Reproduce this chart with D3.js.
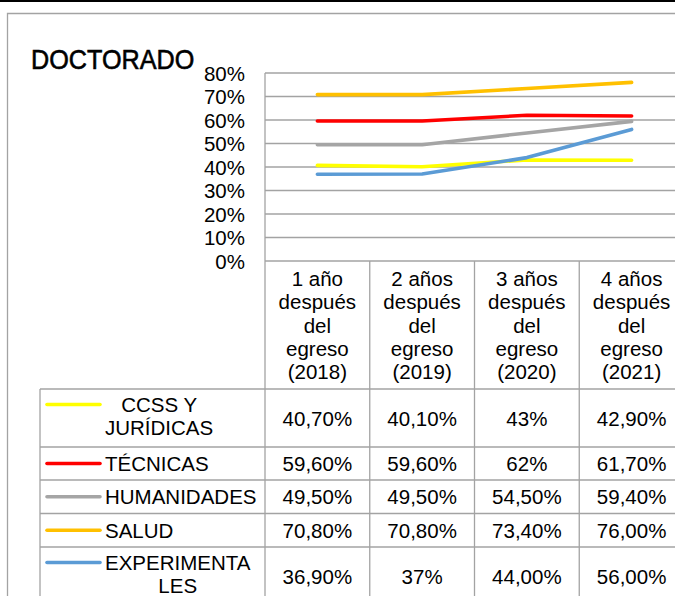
<!DOCTYPE html>
<html lang="es">
<head>
<meta charset="UTF-8">
<title>Doctorado</title>
<script src="https://cdnjs.cloudflare.com/ajax/libs/d3/7.8.5/d3.min.js"></script>
<style>
    body { margin: 0; background: #fff; }
    svg { display: block; font-family: "Liberation Sans", Arial, sans-serif; }
    .grid line { stroke: #a3a3a3; stroke-width: 1.3px; }
    .cell { font-size: 20.5px; fill: #000; }
</style>
</head>
<body>
<svg id="chart"></svg>
<script>
    const width = 675;
    const height = 596;

    // data
    const periods = [
        ["1 año", "después", "del", "egreso", "(2018)"],
        ["2 años", "después", "del", "egreso", "(2019)"],
        ["3 años", "después", "del", "egreso", "(2020)"],
        ["4 años", "después", "del", "egreso", "(2021)"]
    ];
    const seriesNames = [["CCSS Y", "JURÍDICAS"], ["TÉCNICAS"], ["HUMANIDADES"], ["SALUD"], ["EXPERIMENTA", "LES"]];
    const seriesColors = ["#ffff00", "#ff0000", "#a5a5a5", "#ffc000", "#5b9bd5"];
    const ccss = [0.407, 0.401, 0.43, 0.429];
    const tecnicas = [0.596, 0.596, 0.62, 0.617];
    const humanidades = [0.495, 0.495, 0.545, 0.594];
    const salud = [0.708, 0.708, 0.734, 0.76];
    const experimentales = [0.369, 0.37, 0.44, 0.56];
    const tableLabels = [
        ["40,70%", "40,10%", "43%", "42,90%"],
        ["59,60%", "59,60%", "62%", "61,70%"],
        ["49,50%", "49,50%", "54,50%", "59,40%"],
        ["70,80%", "70,80%", "73,40%", "76,00%"],
        ["36,90%", "37%", "44,00%", "56,00%"]
    ];
    const yTicks = [0, 0.1, 0.2, 0.3, 0.4, 0.5, 0.6, 0.7, 0.8];

    const allSeries = [ccss, tecnicas, humanidades, salud, experimentales];
    // table row boundaries
    const rowEdges = [389, 447, 480, 513.5, 547, 605];

    const svg = d3.select("#chart").attr("width", width).attr("height", height);

    const x = d3.scaleBand().domain(d3.range(periods.length)).range([265, 684]);
    const y = d3.scaleLinear().domain([0, 0.8]).range([261, 73]);

    // top black rule and outer frame
    svg.append("line").attr("x1", 0).attr("x2", width).attr("y1", 1).attr("y2", 1)
        .attr("stroke", "#000").attr("stroke-width", 2);
    svg.append("path").attr("d", `M7.5,${height} V13.5 H${width}`)
        .attr("fill", "none").attr("stroke", "#a3a3a3").attr("stroke-width", 1.3);

    svg.append("text")
        .attr("transform", "translate(31,69) scale(0.9,1)")
        .attr("font-size", 28).attr("stroke", "#000").attr("stroke-width", 0.6)
        .text("DOCTORADO");

    // gridlines
    svg.append("g").attr("class", "grid")
        .selectAll("line").data(yTicks).join("line")
        .attr("x1", 265).attr("x2", width)
        .attr("y1", d => y(d)).attr("y2", d => y(d));

    svg.append("g")
        .selectAll("text").data(yTicks).join("text")
        .attr("class", "cell")
        .attr("x", 245).attr("y", d => y(d) + 7.5)
        .attr("text-anchor", "end")
        .text(d => Math.round(d * 100) + "%");

    // table lines
    const tbl = svg.append("g").attr("class", "grid");
    tbl.append("line").attr("x1", 265).attr("x2", 265).attr("y1", y(0.8)).attr("y2", height);
    tbl.selectAll(".vsep").data(d3.range(1, periods.length)).join("line")
        .attr("x1", d => x(d)).attr("x2", d => x(d))
        .attr("y1", y(0)).attr("y2", height);
    tbl.append("line").attr("x1", 40).attr("x2", 40).attr("y1", rowEdges[0]).attr("y2", height);
    tbl.selectAll(".hsep").data(rowEdges.slice(0, -1)).join("line")
        .attr("x1", 40).attr("x2", width)
        .attr("y1", d => d).attr("y2", d => d);

    // column headers
    periods.forEach((lines, i) => {
        svg.append("text").attr("class", "cell")
            .attr("text-anchor", "middle")
            .selectAll("tspan").data(lines).join("tspan")
            .attr("x", x(i) + x.bandwidth() / 2)
            .attr("y", (d, j) => 286 + j * 23.3)
            .text(d => d);
    });

    // lines
    const line = d3.line()
        .x((d, i) => x(i) + x.bandwidth() / 2)
        .y(d => y(d));

    svg.append("g").selectAll("path").data(allSeries).join("path")
        .attr("d", line)
        .attr("fill", "none")
        .attr("stroke", (d, i) => seriesColors[i])
        .attr("stroke-width", 3.6)
        .attr("stroke-linecap", "round")
        .attr("stroke-linejoin", "round");

    // legend rows + values
    seriesNames.forEach((names, i) => {
        const top = rowEdges[i], bot = rowEdges[i + 1];
        const mid = (top + bot) / 2;
        const firstY = names.length > 1 ? top + 23 : mid + 7.5;
        const markY = firstY - 7.5;
        svg.append("line")
            .attr("x1", 47).attr("x2", 100).attr("y1", markY).attr("y2", markY)
            .attr("stroke", seriesColors[i]).attr("stroke-width", 3.6)
            .attr("stroke-linecap", "round");

        const lbl = svg.append("text").attr("class", "cell");
        const spans = lbl.selectAll("tspan").data(names).join("tspan")
            .attr("x", 105)
            .attr("y", (d, j) => firstY + j * 23)
            .text(d => d);
        if (names.length > 1) {
            const widths = spans.nodes().map(n => n.getComputedTextLength());
            const w = d3.max(widths);
            spans.attr("x", (d, j) => 105 + (w - widths[j]) / 2);
        }

        svg.append("g").selectAll("text").data(tableLabels[i]).join("text")
            .attr("class", "cell")
            .attr("text-anchor", "middle")
            .attr("x", (d, j) => x(j) + x.bandwidth() / 2)
            .attr("y", mid + 7.5)
            .text(d => d);
    });
</script>
</body>
</html>
